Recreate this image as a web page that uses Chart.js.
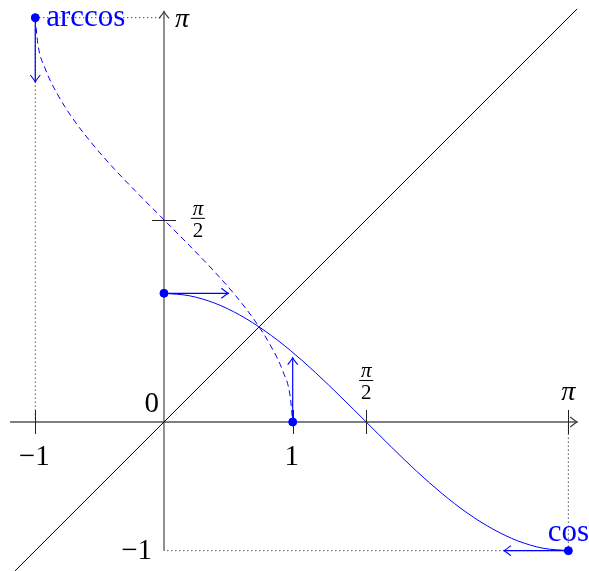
<!DOCTYPE html>
<html>
<head>
<meta charset="utf-8">
<script src="https://cdn.jsdelivr.net/npm/chart.js@4.4.0/dist/chart.umd.min.js"></script>
<style>
  body { margin: 0; background: #fff; }
  canvas { display: block; }
</style>
</head>
<body>
<canvas id="chart" width="589" height="571"></canvas>
<script>
const PI = Math.PI;

// cosine sampled on [0, pi]
const angles = [0, 0.196, 0.393, 0.589, 0.785, 0.982, 1.178, 1.374, 1.571, 1.767, 1.963, 2.160, 2.356, 2.553, 2.749, 2.945, 3.142];
const cosValues = [1, 0.981, 0.924, 0.831, 0.707, 0.556, 0.383, 0.195, 0, -0.195, -0.383, -0.556, -0.707, -0.831, -0.924, -0.981, -1];

// dots on the curves
const markedX = [0, 1, -1, PI];
const markedY = [1, 0, PI, -1];

// axes extents
const xAxisRange = [-1.196, 3.21];
const yAxisRange = [-1, 3.19];
const diagRange = [-1.16, 3.21];

// ticks
const xTicks = [-1, 1, PI / 2, PI];
const xTickLabels = ["−1", "1", "π/2", "π"];
const yTicks = [PI / 2];

const BLUE = "#0000ff";
const AXIS = "#555555";
const SERIF = "Liberation Serif";

const cosData = angles.map((a, i) => ({ x: a, y: cosValues[i] }));
const arccosData = angles.map((a, i) => ({ x: cosValues[i], y: a })).reverse();

function seg(x0, y0, x1, y1) {
    return [{ x: x0, y: y0 }, { x: x1, y: y1 }];
}

function lineSet(data, color, width, dash, order) {
    return {
        type: "line",
        data: data,
        borderColor: color,
        borderWidth: width,
        borderDash: dash || [],
        pointRadius: 0,
        fill: false,
        order: order
    };
}

// draws a tikz-like "to" arrow tip
function arrowTip(ctx, px, py, dx, dy, color) {
    const nx = -dy, ny = dx;
    ctx.save();
    ctx.strokeStyle = color;
    ctx.lineWidth = 1.1;
    ctx.beginPath();
    ctx.moveTo(px - 7 * dx + 5 * nx, py - 7 * dy + 5 * ny);
    ctx.quadraticCurveTo(px - 2 * dx + 1 * nx, py - 2 * dy + 1 * ny, px, py);
    ctx.quadraticCurveTo(px - 2 * dx - 1 * nx, py - 2 * dy - 1 * ny, px - 7 * dx - 5 * nx, py - 7 * dy - 5 * ny);
    ctx.stroke();
    ctx.restore();
}

function drawFrac(ctx, cx, barY, size, color) {
    ctx.save();
    ctx.fillStyle = color;
    ctx.strokeStyle = color;
    ctx.textAlign = "center";
    ctx.font = "italic " + size + "px " + SERIF;
    ctx.textBaseline = "alphabetic";
    ctx.fillText("π", cx, barY - 3);
    ctx.font = size + "px " + SERIF;
    ctx.textBaseline = "top";
    ctx.fillText("2", cx, barY + 3);
    ctx.lineWidth = 1;
    ctx.beginPath();
    ctx.moveTo(cx - 7, barY + 0.5);
    ctx.lineTo(cx + 7, barY + 0.5);
    ctx.stroke();
    ctx.restore();
}

const decorations = {
    id: "decorations",
    afterDatasetsDraw(chart) {
        const ctx = chart.ctx;
        const sx = chart.scales.x, sy = chart.scales.y;
        const ox = sx.getPixelForValue(0), oy = sy.getPixelForValue(0);

        // tick marks
        ctx.save();
        ctx.strokeStyle = "#222";
        ctx.lineWidth = 1;
        xTicks.forEach(v => {
            const px = Math.round(sx.getPixelForValue(v)) + 0.5;
            ctx.beginPath();
            ctx.moveTo(px, oy - 12);
            ctx.lineTo(px, oy + 12);
            ctx.stroke();
        });
        yTicks.forEach(v => {
            const py = Math.round(sy.getPixelForValue(v)) + 0.5;
            ctx.beginPath();
            ctx.moveTo(ox - 12, py);
            ctx.lineTo(ox + 12, py);
            ctx.stroke();
        });
        ctx.restore();

        // axis arrow tips
        arrowTip(ctx, sx.getPixelForValue(xAxisRange[1]), oy, 1, 0, "#333");
        arrowTip(ctx, ox, sy.getPixelForValue(yAxisRange[1]), 0, -1, "#333");

        // blue arrow tips
        arrowTip(ctx, sx.getPixelForValue(0.5), sy.getPixelForValue(1), 1, 0, BLUE);
        arrowTip(ctx, sx.getPixelForValue(1), sy.getPixelForValue(0.5), 0, -1, BLUE);
        arrowTip(ctx, sx.getPixelForValue(-1), sy.getPixelForValue(PI - 0.5), 0, 1, BLUE);
        arrowTip(ctx, sx.getPixelForValue(PI - 0.5), sy.getPixelForValue(-1), -1, 0, BLUE);

        // x tick labels
        ctx.save();
        ctx.fillStyle = "#000";
        ctx.textAlign = "center";
        xTicks.forEach((v, i) => {
            const px = sx.getPixelForValue(v);
            const lab = xTickLabels[i];
            if (lab === "π/2") {
                drawFrac(ctx, px, oy - 42, 21, "#000");
            } else if (lab === "π") {
                ctx.font = "italic 28px " + SERIF;
                ctx.textBaseline = "alphabetic";
                ctx.fillText("π", px, oy - 22);
            } else {
                ctx.font = "29px " + SERIF;
                ctx.textBaseline = "alphabetic";
                ctx.fillText(lab, px - 1, oy + 43);
            }
        });

        // y axis labels
        ctx.font = "29px " + SERIF;
        ctx.textAlign = "right";
        ctx.textBaseline = "alphabetic";
        ctx.fillText("0", ox - 5, oy - 10);
        ctx.fillText("−1", ox - 12, sy.getPixelForValue(-1) + 8);
        drawFrac(ctx, ox + 34, sy.getPixelForValue(PI / 2) - 2, 21, "#000");
        ctx.textAlign = "left";
        ctx.font = "italic 28px " + SERIF;
        ctx.fillText("π", ox + 11, sy.getPixelForValue(PI) + 9);

        // curve names
        ctx.fillStyle = BLUE;
        ctx.font = "31px " + SERIF;
        ctx.textAlign = "left";
        ctx.fillText("arccos", sx.getPixelForValue(-1) + 11, sy.getPixelForValue(PI) + 8);
        ctx.textAlign = "center";
        ctx.fillText("cos", sx.getPixelForValue(PI), sy.getPixelForValue(-1) - 10);
        ctx.restore();
    }
};

new Chart(document.getElementById("chart"), {
    type: "scatter",
    data: {
        datasets: [
            {
                type: "scatter",
                data: markedX.map((x, i) => ({ x: x, y: markedY[i] })),
                backgroundColor: BLUE,
                borderColor: BLUE,
                pointRadius: 4,
                order: 0
            },
            Object.assign(lineSet(cosData, BLUE, 1, null, 1), { cubicInterpolationMode: "monotone" }),
            Object.assign(lineSet(arccosData, BLUE, 1, [6, 4], 1), { cubicInterpolationMode: "monotone" }),
            lineSet(seg(0, 1, 0.5, 1), BLUE, 1.2, null, 1),
            lineSet(seg(1, 0, 1, 0.5), BLUE, 1.2, null, 1),
            lineSet(seg(-1, PI, -1, PI - 0.5), BLUE, 1.2, null, 1),
            lineSet(seg(PI, -1, PI - 0.5, -1), BLUE, 1.2, null, 1),
            lineSet(seg(diagRange[0], diagRange[0], diagRange[1], diagRange[1]), "#000", 1, null, 3),
            lineSet(seg(xAxisRange[0], 0, xAxisRange[1], 0), AXIS, 1.3, null, 4),
            lineSet(seg(0, yAxisRange[0], 0, yAxisRange[1]), AXIS, 1.3, null, 4),
            lineSet(seg(-1, PI, 0, PI), "#000", 1, [1, 3], 5),
            lineSet(seg(-1, PI, -1, 0), "#000", 1, [1, 3], 5),
            lineSet(seg(PI, -1, 0, -1), "#000", 1, [1, 3], 5),
            lineSet(seg(PI, -1, PI, 0), "#000", 1, [1, 3], 5)
        ]
    },
    options: {
        responsive: false,
        animation: false,
        layout: { padding: 0, autoPadding: false },
        plugins: {
            legend: { display: false },
            tooltip: { enabled: false }
        },
        scales: {
            x: { type: "linear", display: false, min: -1.274, max: 3.302 },
            y: { type: "linear", display: false, min: -1.158, max: 3.279 }
        }
    },
    plugins: [decorations]
});
</script>
</body>
</html>
